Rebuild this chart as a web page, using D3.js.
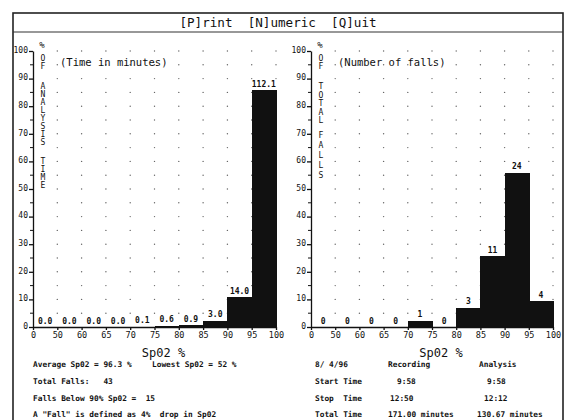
<!DOCTYPE html>
<html>
<head>
<meta charset="utf-8">
<script src="https://cdn.jsdelivr.net/npm/d3@7"></script>
<style>
  body { margin: 0; background: #fff; }
  svg text { font-family: "DejaVu Sans Mono", monospace; fill: #111; white-space: pre; }
</style>
</head>
<body>
<div id="chart"></div>
<script>
// SpO2 histogram report: % of analysis time and % of falls per SpO2 band.
var binEdges   = ['0', '50', '60', '65', '70', '75', '80', '85', '90', '95', '100']
var timeMins   = ['0.0', '0.0', '0.0', '0.0', '0.1', '0.6', '0.9', '3.0', '14.0', '112.1']
var timePct    = [0, 0, 0, 0, 0.1, 0.5, 0.7, 2.3, 10.7, 85.8]
var fallCounts = ['0', '0', '0', '0', '1', '0', '3', '11', '24', '4']
var fallPct    = [0, 0, 0, 0, 2.3, 0, 7.0, 25.6, 55.8, 9.3]
var yTicks     = [0, 10, 20, 30, 40, 50, 60, 70, 80, 90, 100]
var yMinor     = [5, 15, 25, 35, 45, 55, 65, 75, 85, 95]

var menuText   = '[P]rint  [N]umeric  [Q]uit'
var leftStats  = [
  ['Average Sp02 = 96.3 %', 'Lowest Sp02 = 52 %'],
  ['Total Falls:   43'],
  ['Falls Below 90% Sp02 =  15'],
  ['A "Fall" is defined as 4%  drop in Sp02']
]
var rightStats = [
  ['8/ 4/96', 'Recording', 'Analysis'],
  ['Start Time', '9:58', '9:58'],
  ['Stop  Time', '12:50', '12:12'],
  ['Total Time', '171.00 minutes', '130.67 minutes']
]

var W = 568, H = 420
var svg = d3.select('#chart').append('svg').attr('width', W).attr('height', H)

// ---- frame + menu bar ----
svg.append('rect').attr('x', 13).attr('y', 13).attr('width', 550).attr('height', 420)
  .attr('fill', 'none').attr('stroke', '#222').attr('stroke-width', 1.6)
svg.append('line').attr('x1', 13).attr('x2', 563).attr('y1', 32).attr('y2', 32)
  .attr('stroke', '#333').attr('stroke-width', 1.2)
svg.append('text').text(menuText)
  .attr('x', 278).attr('y', 26.5).attr('text-anchor', 'middle').attr('font-size', 12.6)

var y = d3.scaleLinear().domain([0, 100]).range([327, 51])

function panel(opt){
  var x = d3.scaleLinear().domain([0, 10]).range([opt.x0, opt.x1])
  var g = svg.append('g')

  // dot grid at every band edge and every 5%
  var dots = []
  d3.range(1, 11).forEach(function(i){
    d3.range(5, 101, 5).forEach(function(v){ dots.push([i, v]) })
  })
  g.selectAll('circle.dot').data(dots).join('circle')
    .attr('cx', function(d){ return x(d[0]) }).attr('cy', function(d){ return y(d[1]) })
    .attr('r', 0.7).attr('fill', '#666')

  // bars: snapped to whole pixels so neighbouring bands merge into one black block
  g.selectAll('rect.bar').data(opt.pct).join('rect')
    .attr('x', function(d, i){ return Math.round(x(i)) })
    .attr('width', function(d, i){ return Math.round(x(i + 1)) - Math.round(x(i)) + 1 })
    .attr('y', function(d){ return Math.round(y(d)) })
    .attr('height', function(d){ return Math.round(y(0)) - Math.round(y(d)) })
    .attr('fill', '#111').attr('shape-rendering', 'crispEdges')

  // value labels
  g.selectAll('text.val').data(opt.labels).join('text')
    .text(function(d){ return d })
    .attr('x', function(d, i){ return x(i + 0.5) })
    .attr('y', function(d, i){ return y(opt.pct[i]) - 3.5 })
    .attr('text-anchor', 'middle').attr('font-size', 8).attr('font-weight', 'bold')

  // axes
  var ya = g.append('g').attr('transform', 'translate(' + opt.x0 + ',0)')
    .call(d3.axisLeft(y).tickValues(yTicks).tickSize(4).tickSizeOuter(0).tickPadding(1))
  ya.selectAll('text').attr('dy', '0.15em').attr('font-size', 8)
    .attr('font-family', '"DejaVu Sans Mono", monospace')
  ya.selectAll('line, path').attr('stroke', '#111').attr('stroke-width', 1.3)
  g.selectAll('line.minor').data(yMinor).join('line')
    .attr('x1', opt.x0 - 3).attr('x2', opt.x0).attr('y1', y).attr('y2', y)
    .attr('stroke', '#111').attr('stroke-width', 1)

  var xa = g.append('g').attr('transform', 'translate(0,' + y(0) + ')')
    .call(d3.axisBottom(x).tickValues(d3.range(0, 11)).tickFormat(function(i){ return binEdges[i] })
      .tickSize(3).tickSizeOuter(0).tickPadding(2))
  xa.selectAll('text').attr('font-size', 8.5)
    .attr('font-family', '"DejaVu Sans Mono", monospace')
  xa.selectAll('line, path').attr('stroke', '#111').attr('stroke-width', 1.3)

  // stacked side label
  g.append('text').text('%').attr('x', opt.x0 + 9).attr('y', 48)
    .attr('text-anchor', 'middle').attr('font-size', 9)
  opt.side.forEach(function(w){
    w.word.split('').forEach(function(ch, j){
      g.append('text').text(ch)
        .attr('x', opt.x0 + 10).attr('y', w.y + j * w.step)
        .attr('text-anchor', 'middle').attr('font-size', 8)
    })
  })

  g.append('text').text(opt.note).attr('x', opt.x0 + 27).attr('y', 65.5).attr('font-size', 10.5)
  g.append('text').text('Sp02 %').attr('x', (opt.x0 + opt.x1) / 2 + 9).attr('y', 356.5)
    .attr('text-anchor', 'middle').attr('font-size', 12)
}

panel({x0: 33, x1: 276, pct: timePct, labels: timeMins, note: '(Time in minutes)',
  side: [{word: 'OF', y: 61, step: 8}, {word: 'ANALYSIS', y: 89, step: 8}, {word: 'TIME', y: 164, step: 8}]})
panel({x0: 311, x1: 553, pct: fallPct, labels: fallCounts, note: '(Number of falls)',
  side: [{word: 'OF', y: 61, step: 8}, {word: 'TOTAL', y: 89, step: 8.5}, {word: 'FALLS', y: 138, step: 10}]})

// ---- summary text ----
var rowY = [367, 384, 400.5, 416.5]
var leftCols = [33, 152]
leftStats.forEach(function(row, r){
  row.forEach(function(s, c){
    svg.append('text').text(s).attr('x', leftCols[c]).attr('y', rowY[r])
      .attr('font-size', 7.8).attr('font-weight', 'bold')
  })
})
var rightCols = [[315, 388, 479], [315, 397, 487], [315, 390, 484], [315, 388, 477]]
rightStats.forEach(function(row, r){
  row.forEach(function(s, c){
    svg.append('text').text(s).attr('x', rightCols[r][c]).attr('y', rowY[r])
      .attr('font-size', 7.8).attr('font-weight', 'bold')
  })
})
</script>
</body>
</html>
